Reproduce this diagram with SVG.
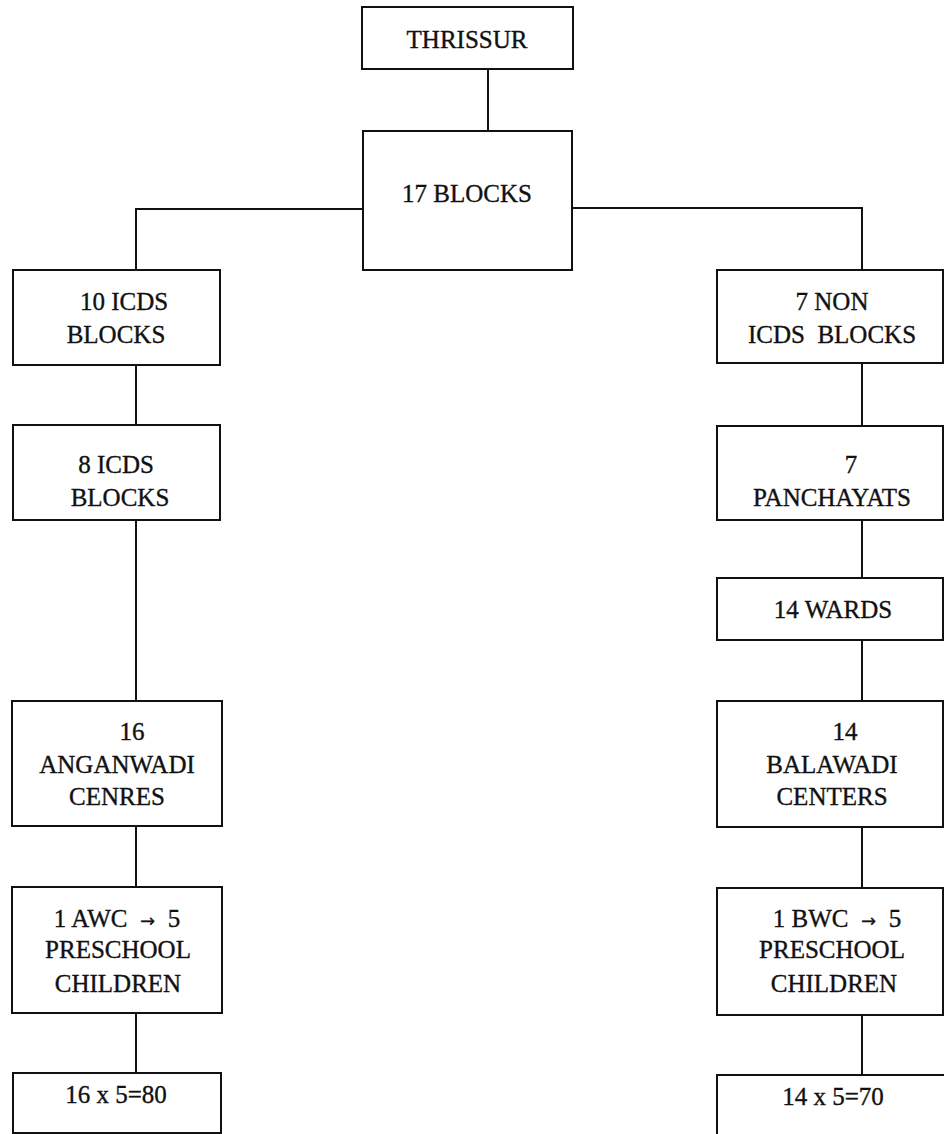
<svg xmlns="http://www.w3.org/2000/svg" width="944" height="1134" viewBox="0 0 944 1134">
<style>
.box{fill:#fff;stroke:#111;stroke-width:2}
.ln{fill:none;stroke:#111;stroke-width:2}
text{font-family:'Liberation Serif','Times New Roman',serif;font-size:25px;fill:#111;stroke:#111;stroke-width:0.35;text-anchor:middle}
.arr{font-family:'DejaVu Sans',sans-serif;font-size:18px;stroke-width:0.2}
</style>
<rect width="944" height="1134" fill="#fff"/>
<g id="connectors">
<line class="ln" x1="488" y1="69" x2="488" y2="131"/>
<polyline class="ln" points="363,209 136,209 136,270"/>
<polyline class="ln" points="572,208 862,208 862,270"/>
<line class="ln" x1="136" y1="365" x2="136" y2="425"/>
<line class="ln" x1="136" y1="520" x2="136" y2="701"/>
<line class="ln" x1="136" y1="826" x2="136" y2="887"/>
<line class="ln" x1="136" y1="1013" x2="136" y2="1073"/>
<line class="ln" x1="862" y1="363" x2="862" y2="426"/>
<line class="ln" x1="862" y1="520" x2="862" y2="578"/>
<line class="ln" x1="862" y1="640" x2="862" y2="701"/>
<line class="ln" x1="862" y1="827" x2="862" y2="888"/>
<line class="ln" x1="862" y1="1015" x2="862" y2="1075"/>
</g>
<g id="thrissur"><rect class="box" x="362" y="7" width="211" height="62"/><text x="467" y="48">THRISSUR</text></g>
<g id="blocks17"><rect class="box" x="363" y="131" width="209" height="139"/><text x="467" y="202">17 BLOCKS</text></g>
<g id="icds10"><rect class="box" x="13" y="270" width="207" height="95"/><text x="124" y="310">10 ICDS</text><text x="116" y="343">BLOCKS</text></g>
<g id="icds8"><rect class="box" x="13" y="425" width="207" height="95"/><text x="116" y="473">8 ICDS</text><text x="120" y="506">BLOCKS</text></g>
<g id="anganwadi"><rect class="box" x="12" y="701" width="210" height="125"/><text x="132" y="740">16</text><text x="117" y="773">ANGANWADI</text><text x="117" y="805">CENRES</text></g>
<g id="awc"><rect class="box" x="12" y="887" width="210" height="126"/><text x="117" y="927" xml:space="preserve">1 AWC  <tspan class="arr">→</tspan>  5</text><text x="118" y="958">PRESCHOOL</text><text x="118" y="992">CHILDREN</text></g>
<g id="total80"><rect class="box" x="13" y="1073" width="208" height="60"/><text x="116" y="1103">16 x 5=80</text></g>
<g id="nonicds7"><rect class="box" x="717" y="270" width="226" height="93"/><text x="832" y="310">7 NON</text><text x="832" y="343" xml:space="preserve">ICDS  BLOCKS</text></g>
<g id="panchayats"><rect class="box" x="717" y="426" width="226" height="94"/><text x="851" y="473">7</text><text x="832" y="506">PANCHAYATS</text></g>
<g id="wards"><rect class="box" x="717" y="578" width="226" height="62"/><text x="833" y="618">14 WARDS</text></g>
<g id="balawadi"><rect class="box" x="717" y="701" width="226" height="126"/><text x="845" y="740">14</text><text x="832" y="773">BALAWADI</text><text x="832" y="805">CENTERS</text></g>
<g id="bwc"><rect class="box" x="717" y="888" width="226" height="127"/><text x="837" y="927" xml:space="preserve">1 BWC  <tspan class="arr">→</tspan>  5</text><text x="832" y="958">PRESCHOOL</text><text x="834" y="992">CHILDREN</text></g>
<g id="total70"><rect class="box" x="717" y="1075" width="240" height="80"/><text x="833" y="1105">14 x 5=70</text></g>
</svg>
